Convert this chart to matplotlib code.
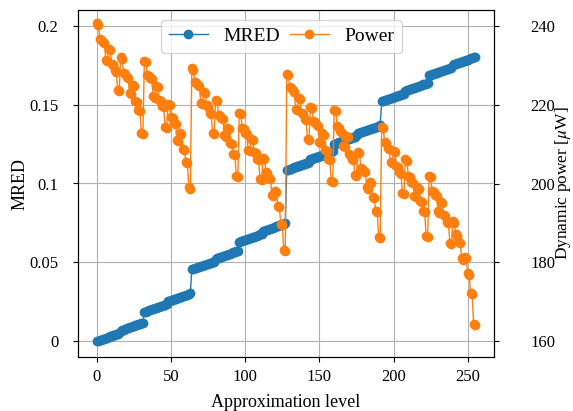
import numpy as np
import matplotlib
matplotlib.use("Agg")
import matplotlib.pyplot as plt
from matplotlib.ticker import FuncFormatter

plt.rcParams['font.family'] = ['Liberation Serif', 'DejaVu Serif']
plt.rcParams['mathtext.fontset'] = 'stix'

# --- data ---
levels = list(range(256))

mred = [
    # 0-31
    0.0000, 0.0003, 0.0007, 0.0010, 0.0013, 0.0017, 0.0020, 0.0023, 0.0027, 0.0030, 0.0033, 0.0037, 0.0040, 0.0043, 0.0047, 0.0050,
    0.0068, 0.0071, 0.0074, 0.0078, 0.0081, 0.0084, 0.0088, 0.0091, 0.0094, 0.0098, 0.0101, 0.0104, 0.0108, 0.0111, 0.0114, 0.0118,
    # 32-63
    0.0185, 0.0188, 0.0192, 0.0195, 0.0198, 0.0202, 0.0205, 0.0208, 0.0212, 0.0215, 0.0218, 0.0222, 0.0225, 0.0228, 0.0232, 0.0235,
    0.0253, 0.0256, 0.0259, 0.0263, 0.0266, 0.0269, 0.0273, 0.0276, 0.0279, 0.0283, 0.0286, 0.0289, 0.0293, 0.0296, 0.0299, 0.0303,
    # 64-95
    0.0455, 0.0458, 0.0462, 0.0465, 0.0468, 0.0472, 0.0475, 0.0478, 0.0482, 0.0485, 0.0488, 0.0492, 0.0495, 0.0498, 0.0502, 0.0505,
    0.0523, 0.0526, 0.0529, 0.0533, 0.0536, 0.0539, 0.0543, 0.0546, 0.0549, 0.0553, 0.0556, 0.0559, 0.0563, 0.0566, 0.0569, 0.0573,
    # 96-127
    0.0630, 0.0633, 0.0637, 0.0640, 0.0643, 0.0647, 0.0650, 0.0653, 0.0657, 0.0660, 0.0663, 0.0667, 0.0670, 0.0673, 0.0677, 0.0680,
    0.0698, 0.0701, 0.0704, 0.0708, 0.0711, 0.0714, 0.0718, 0.0721, 0.0724, 0.0728, 0.0731, 0.0734, 0.0738, 0.0741, 0.0744, 0.0748,
    # 128-159
    0.1085, 0.1088, 0.1092, 0.1095, 0.1098, 0.1102, 0.1105, 0.1108, 0.1112, 0.1115, 0.1118, 0.1122, 0.1125, 0.1128, 0.1132, 0.1135,
    0.1153, 0.1156, 0.1159, 0.1163, 0.1166, 0.1169, 0.1173, 0.1176, 0.1179, 0.1183, 0.1186, 0.1189, 0.1193, 0.1196, 0.1199, 0.1203,
    # 160-191
    0.1250, 0.1253, 0.1257, 0.1260, 0.1263, 0.1267, 0.1270, 0.1273, 0.1277, 0.1280, 0.1283, 0.1287, 0.1290, 0.1293, 0.1297, 0.1300,
    0.1318, 0.1321, 0.1324, 0.1328, 0.1331, 0.1334, 0.1338, 0.1341, 0.1344, 0.1348, 0.1351, 0.1354, 0.1358, 0.1361, 0.1364, 0.1368,
    # 192-223
    0.1520, 0.1523, 0.1527, 0.1530, 0.1533, 0.1537, 0.1540, 0.1543, 0.1547, 0.1550, 0.1553, 0.1557, 0.1560, 0.1563, 0.1567, 0.1570,
    0.1588, 0.1591, 0.1594, 0.1598, 0.1601, 0.1604, 0.1608, 0.1611, 0.1614, 0.1618, 0.1621, 0.1624, 0.1628, 0.1631, 0.1634, 0.1638,
    # 224-255
    0.1685, 0.1688, 0.1692, 0.1695, 0.1698, 0.1702, 0.1705, 0.1708, 0.1712, 0.1715, 0.1718, 0.1722, 0.1725, 0.1728, 0.1732, 0.1735,
    0.1753, 0.1756, 0.1759, 0.1763, 0.1766, 0.1769, 0.1773, 0.1776, 0.1779, 0.1783, 0.1786, 0.1789, 0.1793, 0.1796, 0.1799, 0.1803,
]

power = [
    # 0-31
    240.6, 240.3, 236.7, 236.4, 235.9, 235.6, 231.3, 231.0, 234.2, 233.9, 230.4, 230.1, 228.7, 228.4, 223.7, 223.4,
    232.0, 231.7, 228.0, 227.7, 227.0, 226.7, 223.0, 222.7, 225.0, 224.7, 221.0, 220.7, 218.6, 218.3, 212.8, 212.5,
    # 32-63
    231.1, 230.8, 227.5, 227.2, 226.7, 226.4, 222.1, 221.8, 224.8, 224.5, 221.2, 220.9, 219.6, 219.3, 214.3, 214.0,
    220.2, 219.9, 216.8, 216.5, 215.3, 215.0, 211.1, 210.8, 212.8, 212.5, 208.7, 208.4, 205.4, 205.1, 199.0, 198.7,
    # 64-95
    229.2, 228.9, 225.8, 225.5, 225.0, 224.7, 220.5, 220.2, 223.3, 223.0, 219.8, 219.5, 217.9, 217.6, 212.8, 212.5,
    221.1, 220.8, 217.4, 217.1, 216.6, 216.3, 212.2, 211.9, 214.1, 213.8, 210.3, 210.0, 207.6, 207.3, 201.9, 201.6,
    # 96-127
    217.9, 217.6, 214.1, 213.8, 212.8, 212.5, 208.6, 208.3, 211.3, 211.0, 208.0, 207.7, 206.3, 206.0, 201.1, 200.8,
    206.5, 206.2, 202.9, 202.6, 201.5, 201.2, 197.1, 196.8, 198.1, 197.8, 194.4, 194.1, 189.8, 189.5, 183.1, 182.8,
    # 128-159
    227.8, 227.5, 224.4, 224.1, 223.6, 223.3, 218.9, 218.6, 221.7, 221.4, 217.9, 217.6, 216.4, 216.1, 211.3, 211.0,
    219.5, 219.2, 215.9, 215.6, 215.0, 214.7, 210.5, 210.2, 212.7, 212.4, 208.6, 208.3, 206.3, 206.0, 200.6, 200.3,
    # 160-191
    218.7, 218.4, 214.5, 214.2, 213.2, 212.9, 209.5, 209.2, 212.0, 211.7, 207.4, 207.1, 206.2, 205.9, 202.2, 201.9,
    208.0, 207.7, 204.0, 203.7, 203.2, 202.9, 199.0, 198.7, 200.4, 200.1, 196.5, 196.2, 193.1, 192.8, 186.4, 186.1,
    # 192-223
    214.3, 214.0, 210.5, 210.2, 209.0, 208.7, 205.4, 205.1, 208.2, 207.9, 204.4, 204.1, 202.8, 202.5, 197.6, 197.3,
    206.1, 205.8, 201.9, 201.6, 200.5, 200.2, 196.9, 196.6, 199.0, 198.7, 195.5, 195.2, 193.0, 192.7, 186.8, 186.5,
    # 224-255
    201.9, 201.6, 198.1, 197.8, 197.1, 196.8, 192.9, 192.6, 195.4, 195.1, 192.1, 191.8, 190.2, 189.9, 185.0, 184.7,
    190.4, 190.1, 187.1, 186.8, 185.2, 184.9, 181.0, 180.7, 181.4, 181.1, 177.2, 176.9, 172.2, 171.9, 164.4, 164.1,
]

x_ticks = [0, 50, 100, 150, 200, 250]
mred_ticks = [0, 0.05, 0.1, 0.15, 0.2]
power_ticks = [160, 180, 200, 220, 240]

fig = plt.figure(figsize=(5.73, 4.11), dpi=100)
ax = fig.add_axes([78 / 573, 54 / 411, 416 / 573, 347 / 411])
ax2 = ax.twinx()

l1, = ax.plot(levels, mred, color='#1f77b4', marker='o', markersize=6, linewidth=1, label='MRED')
l2, = ax2.plot(levels, power, color='#ff7f0e', marker='o', markersize=6, linewidth=1, label='Power')

ax.set_xlim(-12.75, 267.75)
ax.set_ylim(-0.01, 0.21)
ax2.set_ylim(156, 244)
ax.set_xticks(x_ticks)
ax.set_yticks(mred_ticks)
ax2.set_yticks(power_ticks)
ax.yaxis.set_major_formatter(FuncFormatter(lambda v, p: '%g' % v))

ax.grid(True, color='#b0b0b0', linewidth=0.8)
ax.set_axisbelow(True)

ax.tick_params(axis='x', labelsize=12, pad=5)
ax.tick_params(axis='y', labelsize=12, pad=10.5)
ax2.tick_params(axis='y', labelsize=12, pad=22.5)

ax.set_xlabel('Approximation level', fontsize=13, labelpad=6.5)
ax.set_ylabel('MRED', fontsize=13)
ax2.set_ylabel(r'Dynamic power [$\mu$W]', fontsize=12.5)
ax.yaxis.set_label_coords(-0.12, 0.5)
ax2.yaxis.set_label_coords(1.143, 0.5)

ax2.legend([l1, l2], ['MRED', 'Power'], loc='upper center', ncol=2, fontsize=14,
           bbox_to_anchor=(0.489, 1.0), handlelength=2.0, columnspacing=0.5)

fig.savefig('out.png', dpi=100)
